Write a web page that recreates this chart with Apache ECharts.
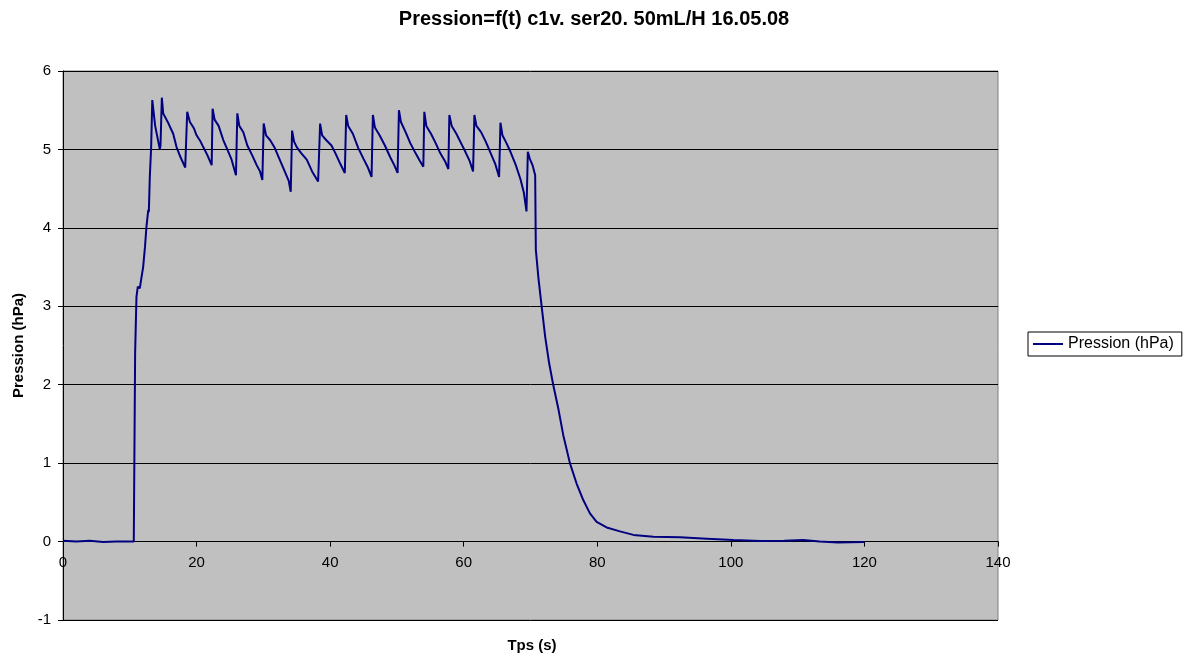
<!DOCTYPE html>
<html>
<head>
<meta charset="utf-8">
<script src="https://cdn.jsdelivr.net/npm/echarts@6/dist/echarts.min.js"></script>
<style>
  html, body { margin: 0; padding: 0; background: #fff; }
  #chart { width: 1188px; height: 657px; }
</style>
</head>
<body>
<div id="chart"></div>
<script>
// temps (s) et pression (hPa)
var times = [
  0, 2, 4, 6, 8, 10, 10.6, 10.8, 11.0, 11.2, 11.5, 11.7, 12.0, 12.28, 12.5, 12.77, 12.85, 13.0, 13.2, 13.37, 13.8, 14.5, 14.6,
  14.8, 15.0, 15.8, 16.5, 17.0, 17.6, 18.3,
  18.6, 19.0, 19.6, 20.0, 20.6, 21.0, 21.6, 22.26,
  22.4, 22.7, 23.3, 24.0, 24.6, 25.2, 25.9,
  26.1, 26.4, 27.0, 27.6, 28.3, 29.0, 29.5, 29.85,
  30.05, 30.4, 31.0, 31.7, 32.4, 33.2, 33.8, 34.1,
  34.3, 34.6, 35.0, 35.6, 36.5, 37.3, 38.2,
  38.5, 38.8, 39.4, 40.2, 40.8, 41.5, 42.2,
  42.4, 42.7, 43.4, 44.2, 45.0, 45.6, 46.2,
  46.4, 46.7, 47.4, 48.2, 49.0, 49.6, 50.1,
  50.3, 50.6, 51.3, 52.0, 52.8, 53.4, 53.95,
  54.1, 54.4, 55.1, 55.8, 56.5, 57.2, 57.7,
  57.85, 58.2, 58.9, 59.6, 60.3, 60.9, 61.4,
  61.6, 61.9, 62.6, 63.3, 64.0, 64.7, 65.3,
  65.5, 65.8, 66.4, 67.0, 67.8, 68.5, 69.0, 69.4,
  69.6, 69.9, 70.3, 70.7, 70.8,
  71.2, 71.67, 72.2, 72.8, 73.4, 74.2, 74.9, 75.9, 76.9, 77.9, 78.9, 79.9, 81.4, 83.4, 85.4, 88.4, 92.4, 96.4,
  100.4, 104.4, 108, 110.8, 113.3, 116, 118, 120
];
var pression = [
  0.01, 0.0, 0.01, -0.005, 0.0, 0.0, 0.0, 2.4, 3.12, 3.25, 3.23, 3.34, 3.5, 3.76, 4.02, 4.23, 4.2, 4.65, 5.03, 5.63, 5.3, 5.0, 5.05,
  5.66, 5.46, 5.33, 5.2, 5.03, 4.9, 4.77,
  5.48, 5.35, 5.27, 5.18, 5.10, 5.03, 4.93, 4.80,
  5.52, 5.38, 5.30, 5.12, 5.00, 4.88, 4.67,
  5.46, 5.30, 5.22, 5.05, 4.93, 4.80, 4.72, 4.61,
  5.33, 5.18, 5.12, 5.02, 4.88, 4.72, 4.60, 4.46,
  5.24, 5.10, 5.03, 4.96, 4.87, 4.72, 4.59,
  5.33, 5.18, 5.12, 5.05, 4.95, 4.82, 4.70,
  5.44, 5.30, 5.20, 5.02, 4.88, 4.78, 4.65,
  5.44, 5.28, 5.18, 5.05, 4.90, 4.80, 4.70,
  5.50, 5.35, 5.22, 5.08, 4.95, 4.86, 4.78,
  5.48, 5.30, 5.20, 5.08, 4.95, 4.85, 4.75,
  5.44, 5.30, 5.20, 5.08, 4.96, 4.85, 4.72,
  5.44, 5.30, 5.22, 5.10, 4.96, 4.82, 4.65,
  5.34, 5.18, 5.08, 4.97, 4.80, 4.62, 4.45, 4.21,
  4.97, 4.88, 4.80, 4.67, 3.72,
  3.35, 3.0, 2.61, 2.27, 2.0, 1.68, 1.36, 1.0, 0.74, 0.53, 0.36, 0.25, 0.18, 0.13, 0.085, 0.063, 0.055, 0.037,
  0.02, 0.008, 0.01, 0.02, 0.0, -0.013, -0.01, -0.005
];
var seriesName = 'Pression (hPa)';

var points = times.map(function (t, i) { return [t, pression[i]]; });

var chart = echarts.init(document.getElementById('chart'));
var font = 'Liberation Sans, Arial, sans-serif';

var option = {
  animation: false,
  backgroundColor: '#fff',
  textStyle: { fontFamily: font },
  title: {
    text: 'Pression=f(t) c1v. ser20. 50mL/H 16.05.08',
    left: 'center',
    top: 4,
    textStyle: { fontSize: 20, fontWeight: 'bold', color: '#000', fontFamily: font }
  },
  legend: {
    data: [seriesName],
    left: 1028,
    top: 332,
    orient: 'vertical',
    borderColor: '#000',
    borderWidth: 1,
    padding: [4, 8, 4, 5],
    itemGap: 0,
    icon: 'rect',
    itemWidth: 30,
    itemHeight: 2,
    textStyle: { fontSize: 16, color: '#000', fontFamily: font }
  },
  grid: {
    left: 63,
    right: 190,
    top: 71,
    bottom: 37,
    outerBoundsMode: 'none',
    show: true,
    backgroundColor: '#c0c0c0',
    borderColor: '#808080',
    borderWidth: 1
  },
  xAxis: {
    type: 'value',
    min: 0,
    max: 140,
    interval: 20,
    offset: -78.4,
    axisLine: { onZero: false, lineStyle: { color: '#000', width: 1 } },
    axisTick: { show: true, length: 5, lineStyle: { color: '#000' } },
    axisLabel: { fontSize: 15, color: '#000', margin: 14, fontFamily: font },
    splitLine: { show: false }
  },
  yAxis: {
    type: 'value',
    min: -1,
    max: 6,
    interval: 1,
    name: 'Pression (hPa)',
    nameLocation: 'middle',
    nameGap: 35,
    nameTextStyle: { fontSize: 15, fontWeight: 'bold', color: '#000', fontFamily: font },
    axisLine: { show: true, lineStyle: { color: '#000' } },
    axisTick: { show: true, length: 5, lineStyle: { color: '#000' } },
    axisLabel: { fontSize: 15, color: '#000', margin: 12, fontFamily: font },
    splitLine: { show: true, lineStyle: { color: '#000', width: 1 } }
  },
  graphic: [{
    type: 'text',
    x: 532,
    y: 646,
    style: { text: 'Tps (s)', font: 'bold 15px ' + font, fill: '#000', align: 'center', verticalAlign: 'middle' }
  }],
  series: [{
    name: seriesName,
    type: 'line',
    data: points,
    showSymbol: false,
    symbol: 'none',
    color: '#000080',
    lineStyle: { color: '#000080', width: 2 }
  }]
};
chart.setOption(option);
</script>
</body>
</html>
